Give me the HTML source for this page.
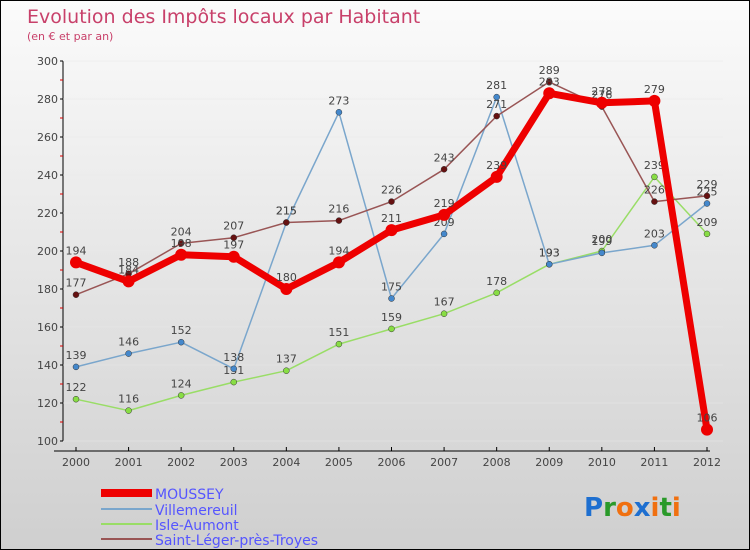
<!DOCTYPE html>
<html><head><meta charset="utf-8"><style>
body{margin:0}
#c{width:750px;height:550px;position:relative;box-sizing:border-box;border:1px solid #000;background:linear-gradient(#fbfbfb,#cfcfcf);font-family:"DejaVu Sans","Liberation Sans",sans-serif;overflow:hidden}
</style></head><body>
<div id="c">
<svg id="s" width="750" height="550" style="position:absolute;left:0;top:0">
<text x="26" y="22" font-size="19" fill="#c8406a">Evolution des Impôts locaux par Habitant</text>
<text x="26" y="39" font-size="11" fill="#c8406a">(en € et par an)</text>
<g id="axes"></g><g id="series"></g>
<g font-size="14" fill="#5555ff">
<rect x="100" y="488" width="51" height="8" fill="#e00"/>
<text x="154" y="498">MOUSSEY</text>
<rect x="100" y="507" width="51" height="2" fill="#7aa6cc"/>
<text x="154" y="514">Villemereuil</text>
<rect x="100" y="522" width="51" height="2" fill="#99dd66"/>
<text x="154" y="529">Isle-Aumont</text>
<rect x="100" y="537" width="51" height="2" fill="#995555"/>
<text x="154" y="544">Saint-Léger-près-Troyes</text>
</g>
<g font-size="26" font-weight="bold" font-family="'DejaVu Sans',sans-serif">
<text x="583" y="515"><tspan fill="#1e6fd0">P</tspan><tspan fill="#2a9a2a">r</tspan><tspan fill="#f07010">o</tspan><tspan fill="#1e6fd0">x</tspan><tspan fill="#f07010">i</tspan><tspan fill="#2a9a2a">t</tspan><tspan fill="#f07010">i</tspan></text>
</g>
</svg>
</div>
<script>
const years=[2000,2001,2002,2003,2004,2005,2006,2007,2008,2009,2010,2011,2012];
const yTicks=[100,120,140,160,180,200,220,240,260,280,300];
const moussey=[194,184,198,197,180,194,211,219,239,283,278,279,106];
const villemereuil=[139,146,152,138,215,273,175,209,281,193,199,203,225];
const isleAumont=[122,116,124,131,137,151,159,167,178,193,200,239,209];
const saintLeger=[177,188,204,207,215,216,226,243,271,289,276,226,229];
const NS="http://www.w3.org/2000/svg";
const X=i=>75+i*(706-75)/(years.length-1);
const Y=v=>440-(v-100)*380/200;
function mk(t,a,p){const e=document.createElementNS(NS,t);for(const k in a)e.setAttribute(k,a[k]);p.appendChild(e);return e;}
const ax=document.getElementById('axes');
let yl=mk('line',{x1:62,y1:60,x2:62,y2:440,stroke:'#000'},ax);


let xl=mk('line',{x1:53,y1:450,x2:709,y2:450,stroke:'#000'},ax);


yTicks.forEach((v,i)=>{
 mk('line',{x1:59,y1:Y(v),x2:62,y2:Y(v),stroke:'#000'},ax);
 if(i<yTicks.length-1) mk('line',{x1:59,y1:Y(v+10),x2:62,y2:Y(v+10),stroke:'#d00'},ax);
 mk('line',{x1:62,y1:Y(v),x2:722,y2:Y(v),stroke:'#e8e8e8','stroke-width':0.5},ax);
 const t=mk('text',{x:57,y:Y(v)+4,'font-size':11,fill:'#444','text-anchor':'end'},ax);t.textContent=v;
 
 
});
years.forEach((y,i)=>{
 mk('line',{x1:X(i),y1:446,x2:X(i),y2:450,stroke:'#000'},ax);
 const t=mk('text',{x:X(i),y:465,'font-size':11,fill:'#444','text-anchor':'middle'},ax);t.textContent=y;
 
 
});
const sg=document.getElementById('series');
function series(data,color,w,r,dot,name){
 const g=mk('g',{},sg);
 
 
 mk('polyline',{points:data.map((v,i)=>X(i)+','+Y(v)).join(' '),fill:'none',stroke:color,'stroke-width':w,'stroke-linejoin':'round'},g);
 data.forEach((v,i)=>{
  const c=mk('circle',{cx:X(i),cy:Y(v),r:r,fill:dot,stroke:'#333','stroke-width':r>4?0:0.5},g);
  
  
  const t=mk('text',{x:X(i),y:Y(v)-8,'font-size':11,fill:'#444','text-anchor':'middle'},g);t.textContent=v;
 });
}
series(isleAumont,'#99dd66',1.5,3,'#88dd44','isle-aumont-series');
series(villemereuil,'#7aa6cc',1.5,3,'#4488cc','villemereuil-series');
series(saintLeger,'#995555',1.5,3,'#661111','saint-leger-series');
series(moussey,'#ee0000',7,6,'#ee0000','moussey-series');
</script>
</body></html>
